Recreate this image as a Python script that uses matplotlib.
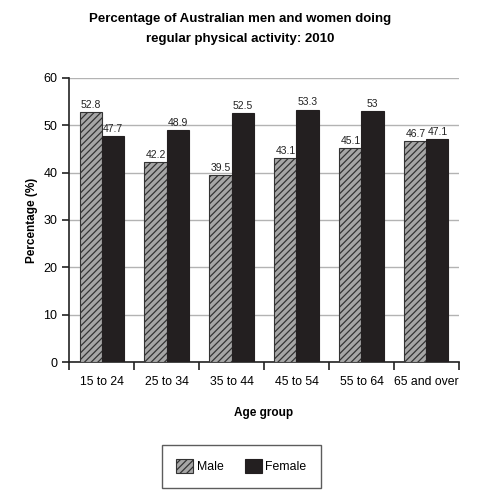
import matplotlib
matplotlib.use("Agg")
import matplotlib.pyplot as plt
import numpy as np

plt.rcParams['font.family'] = ['Liberation Sans', 'DejaVu Sans']
plt.rcParams['hatch.linewidth'] = 0.9
plt.rcParams['hatch.color'] = '#333333'

categories = ["15 to 24", "25 to 34", "35 to 44", "45 to 54", "55 to 64", "65 and over"]
male = [52.8, 42.2, 39.5, 43.1, 45.1, 46.7]
female = [47.7, 48.9, 52.5, 53.3, 53, 47.1]
male_labels = ["52.8", "42.2", "39.5", "43.1", "45.1", "46.7"]
female_labels = ["47.7", "48.9", "52.5", "53.3", "53", "47.1"]

fig = plt.figure(figsize=(4.8, 4.96), dpi=100)
ax = fig.add_axes([0.144, 0.270, 0.812, 0.573])

x = np.arange(len(categories))
w = 0.34
bm = ax.bar(x - w/2, male, w, color='#a6a6a6', edgecolor='#333333', hatch='/////', linewidth=0.8, label='Male', zorder=3)
bf = ax.bar(x + w/2, female, w, color='#231f20', edgecolor='#231f20', linewidth=0.8, label='Female', zorder=3)

for xi, v, t in zip(x, male, male_labels):
    ax.text(xi - w/2, v + 0.5, t, ha='center', va='bottom', fontsize=7.5, color='#222222')
for xi, v, t in zip(x, female, female_labels):
    ax.text(xi + w/2, v + 0.5, t, ha='center', va='bottom', fontsize=7.5, color='#222222')

ax.set_xlim(-0.5, len(categories) - 0.5)
ax.set_ylim(0, 60)
ax.set_yticks(np.arange(0, 61, 10))
ax.yaxis.grid(True, color='#b3b3b3', linewidth=1.0, zorder=0)
ax.set_axisbelow(True)

ax.set_xticks(x)
ax.set_xticklabels(categories, fontsize=8.8)
ax.tick_params(axis='x', which='major', length=0, pad=10)
ax.set_xticks(np.arange(-0.5, len(categories), 1), minor=True)
ax.tick_params(axis='x', which='minor', length=6, width=1.2, color='#222222', direction='out')
ax.tick_params(axis='y', labelsize=9, length=5, width=1.2, color='#222222')

for s in ['top', 'right']:
    ax.spines[s].set_visible(False)
for s in ['left', 'bottom']:
    ax.spines[s].set_linewidth(1.2)
    ax.spines[s].set_color('#222222')

ax.set_ylabel("Percentage (%)", fontsize=8.5, fontweight='bold', labelpad=4)
ax.set_xlabel("Age group", fontsize=8.5, fontweight='bold', labelpad=14)

fig.text(0.5, 0.962, "Percentage of Australian men and women doing", ha='center', va='center', fontsize=9.5, fontweight='bold')
fig.text(0.5, 0.922, "regular physical activity: 2010", ha='center', va='center', fontsize=9.5, fontweight='bold')

leg = fig.legend(handles=[bm, bf], loc='center', bbox_to_anchor=(0.503, 0.060), ncol=2,
                 fontsize=8.8, frameon=True, fancybox=False, edgecolor='#333333',
                 handlelength=1.4, handleheight=1.4, columnspacing=1.7, borderpad=1.2, handletextpad=0.3)
leg.get_frame().set_linewidth(1.0)

fig.savefig("out.png", dpi=100)
